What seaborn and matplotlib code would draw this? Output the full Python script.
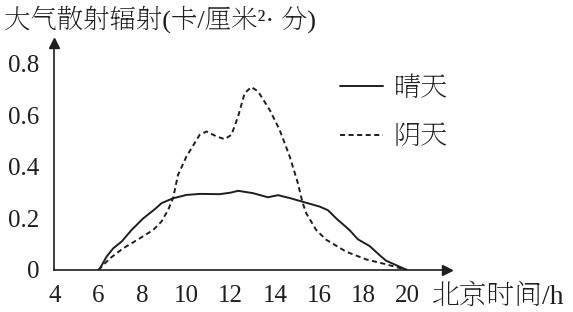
import matplotlib
matplotlib.use("Agg")
import matplotlib.pyplot as plt
from matplotlib.lines import Line2D
import seaborn as sns
import pandas as pd

# ---- data ----
sunny_hour = [6.0, 6.07, 6.37, 6.67, 7.05, 7.5, 8.03, 8.56, 8.86, 9.38, 9.99, 10.6, 11.5,
              12.0, 12.33, 13.0, 13.68, 14.14, 14.67, 15.24, 16.02, 16.4, 16.78, 17.38,
              17.76, 18.29, 18.74, 19.04, 19.49, 19.99]
sunny_val = [0.0, 0.006, 0.052, 0.084, 0.11, 0.155, 0.2, 0.236, 0.259, 0.278, 0.291, 0.295, 0.294,
             0.3, 0.307, 0.298, 0.282, 0.29, 0.279, 0.265, 0.246, 0.232, 0.2, 0.155,
             0.119, 0.093, 0.058, 0.036, 0.019, 0.0]

cloudy_hour = [6.0, 6.52, 7.12, 7.88, 8.48, 8.86, 9.16, 9.38, 9.61, 9.99, 10.59, 10.9, 11.35,
               11.72, 12.03, 12.33, 12.63, 12.93, 13.23, 13.76, 14.21, 14.67, 15.04, 15.24,
               15.42, 15.87, 16.33, 17.23, 18.14, 19.04, 19.99]
cloudy_val = [0.0, 0.045, 0.084, 0.123, 0.155, 0.188, 0.233, 0.278, 0.369, 0.44, 0.524, 0.537, 0.518,
              0.507, 0.524, 0.595, 0.686, 0.709, 0.693, 0.621, 0.544, 0.44, 0.337, 0.265,
              0.22, 0.155, 0.117, 0.071, 0.041, 0.022, 0.0]

series_names = ["晴天", "阴天"]
x_ticks = [4, 6, 8, 10, 12, 14, 16, 18, 20]
y_ticks = [0, 0.2, 0.4, 0.6, 0.8]
y_ticklabels = ["0", "0.2", "0.4", "0.6", "0.8"]
title_text = "大气散射辐射(卡/厘米²· 分)"
xlabel_text = "北京时间/h"

df = pd.concat([
    pd.DataFrame({"hour": sunny_hour, "value": sunny_val, "weather": series_names[0]}),
    pd.DataFrame({"hour": cloudy_hour, "value": cloudy_val, "weather": series_names[1]}),
], ignore_index=True)

sns.set_theme(style="white")
SERIF = ["Liberation Serif", "Noto Serif SC", "Noto Sans CJK SC", "DejaVu Sans"]
CJK = ["Noto Serif SC", "Noto Sans CJK SC", "DejaVu Sans"]
plt.rcParams["font.family"] = SERIF

W, H = 573, 312
fig = plt.figure(figsize=(W / 100, H / 100), dpi=100)
ax = fig.add_axes([54.3 / W, (H - 270) / H, (447 - 54.3) / W, (270 - 43) / H])

ink = "#1e1e1e"
sns.lineplot(data=df, x="hour", y="value", style="weather", style_order=series_names,
             dashes={series_names[0]: "", series_names[1]: (2.6, 1.8)},
             color=ink, linewidth=1.4, sort=False, estimator=None, ax=ax, legend=False)

ax.set_xlim(4, 21.8)
ax.set_ylim(0, 0.88)
ax.set_xticks(x_ticks)
ax.set_xticklabels([str(t) for t in x_ticks])
ax.set_yticks(y_ticks)
ax.set_yticklabels(y_ticklabels)
ax.tick_params(axis="x", direction="in", length=4, width=1, colors=ink, pad=11)
ax.tick_params(axis="y", direction="out", length=4, width=1, colors=ink, pad=7)
for lab in ax.get_xticklabels() + ax.get_yticklabels():
    lab.set_fontfamily(SERIF)
    lab.set_fontsize(18)
    lab.set_color(ink)
ax.set_xlabel("")
ax.set_ylabel("")

for s in ["top", "right"]:
    ax.spines[s].set_visible(False)
for s in ["left", "bottom"]:
    ax.spines[s].set_color(ink)
    ax.spines[s].set_linewidth(1.2)

# axis arrows
ax.plot(1, 0, ">", color=ink, markersize=7, transform=ax.transAxes, clip_on=False)
ax.plot(0, 1, "^", color=ink, markersize=7, transform=ax.transAxes, clip_on=False)

# title and x label
fig.text(4 / W, 1 - 19 / H, title_text, ha="left", va="center", fontsize=19,
         family=SERIF, color=ink)
fig.text(432 / W, 1 - 297 / H, xlabel_text, ha="left", va="center", fontsize=20,
         family=SERIF, color=ink)

# legend
handles = [Line2D([0], [0], color=ink, lw=1.4),
           Line2D([0], [0], color=ink, lw=1.4, dashes=(2.6, 1.8))]
leg = ax.legend(handles, series_names, loc="upper left",
                bbox_to_anchor=(340 / W, 1 - 74 / H), bbox_transform=fig.transFigure,
                frameon=False, handlelength=1.6, handletextpad=0.38, labelspacing=0.75,
                borderpad=0, borderaxespad=0, prop={"family": CJK, "size": 19.5})
for t in leg.get_texts():
    t.set_color(ink)

fig.savefig("out.png", dpi=100, facecolor="white")
